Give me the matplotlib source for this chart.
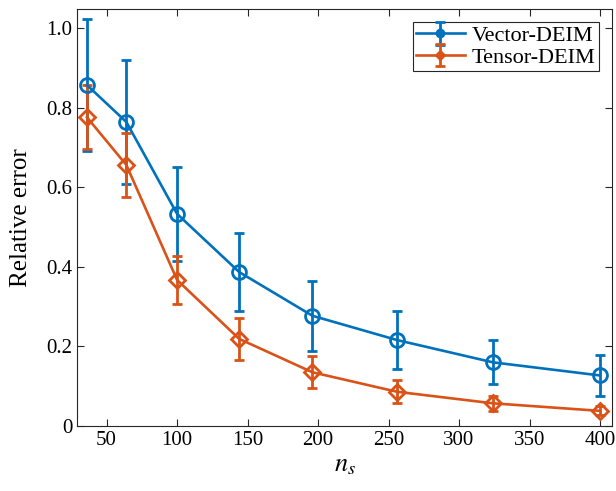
import matplotlib
matplotlib.use('Agg')
import matplotlib.pyplot as plt

plt.rcParams['font.family'] = ['Liberation Serif', 'DejaVu Serif']
plt.rcParams['mathtext.fontset'] = 'stix'

# data
ns = [36, 64, 100, 144, 196, 256, 324, 400]
vec_err = [0.857, 0.764, 0.533, 0.387, 0.277, 0.216, 0.160, 0.127]
vec_std = [0.165, 0.156, 0.118, 0.097, 0.088, 0.072, 0.055, 0.052]
ten_err = [0.776, 0.656, 0.367, 0.219, 0.135, 0.086, 0.057, 0.038]
ten_std = [0.080, 0.080, 0.060, 0.053, 0.040, 0.029, 0.019, 0.011]

blue = '#0072BD'
orange = '#D95319'

fig = plt.figure(figsize=(6.16, 4.91), dpi=100)
ax = fig.add_axes([0.125, 0.1324, 0.8685, 0.8493])

ax.errorbar(ns, vec_err, yerr=vec_std, color=blue, marker='o', ms=10,
            mfc='none', mew=2, lw=1.9, elinewidth=2, capsize=3.5,
            capthick=2, label='Vector-DEIM')
ax.errorbar(ns, ten_err, yerr=ten_std, color=orange, marker='D', ms=8,
            mfc='none', mew=2, lw=1.9, elinewidth=2, capsize=3.5,
            capthick=2, label='Tensor-DEIM')

ax.set_xlim(29, 408.5)
ax.set_ylim(0, 1.048)
ax.set_xticks([50, 100, 150, 200, 250, 300, 350, 400])
ax.set_yticks([0, 0.2, 0.4, 0.6, 0.8, 1.0])
ax.set_yticklabels(['0', '0.2', '0.4', '0.6', '0.8', '1.0'])
ax.tick_params(direction='in', top=True, right=True, labelsize=15, length=5,
               color='#262626', labelcolor='black')
for s in ax.spines.values():
    s.set_color('#262626')
    s.set_linewidth(0.8)

ax.set_xlabel('$n_s$', fontsize=19)
ax.set_ylabel('Relative error', fontsize=18, labelpad=10)

leg = ax.legend(loc='upper right', fontsize=16, fancybox=False, framealpha=1,
                edgecolor='#262626', handlelength=2.2, borderpad=0.15,
                labelspacing=0.05, handletextpad=0.3, borderaxespad=0.6,
                markerscale=0.5)
leg.get_frame().set_linewidth(0.8)

fig.savefig('out.png', dpi=100)
